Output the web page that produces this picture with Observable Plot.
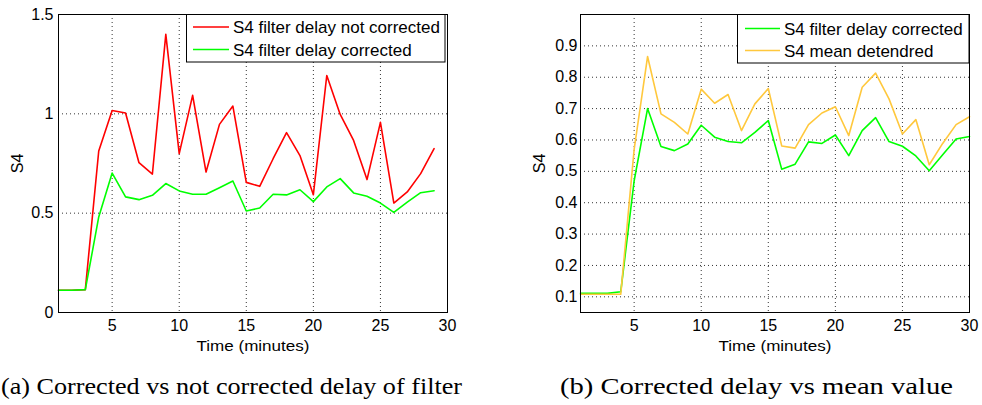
<!DOCTYPE html>
<html>
<head>
<meta charset="utf-8">
<script src="https://cdn.jsdelivr.net/npm/d3@7"></script>
<script src="https://cdn.jsdelivr.net/npm/@observablehq/plot@0.6"></script>
<style>
  html, body { margin: 0; padding: 0; background: #fff; }
  #wrap { position: relative; width: 982px; height: 405px; overflow: hidden; background: #fff; font-family: "Liberation Sans", Arial, sans-serif; }
  .panel { position: absolute; top: 0; }
  #overlay { position: absolute; left: 0; top: 0; }
</style>
</head>
<body>
<div id="wrap">
  <div id="pa" class="panel" style="left:0"></div>
  <div id="pb" class="panel" style="left:491px"></div>
  <svg id="overlay" width="982" height="405"></svg>
</div>
<script>
// ---- Data ----
const timeA = [1,2,3,4,5,6,7,8,9,10,11,12,13,14,15,16,17,18,19,20,21,22,23,24,25,26,27,28,29];
const s4NotCorrected = [0.112,0.112,0.115,0.813,1.017,1.004,0.754,0.697,1.400,0.800,1.093,0.707,0.947,1.039,0.655,0.635,0.774,0.905,0.790,0.593,1.193,0.997,0.866,0.669,0.957,0.551,0.607,0.699,0.825];
const s4CorrectedA = [0.112,0.112,0.115,0.481,0.702,0.582,0.568,0.590,0.649,0.612,0.595,0.595,0.628,0.662,0.511,0.526,0.595,0.592,0.618,0.558,0.632,0.674,0.602,0.585,0.551,0.504,0.556,0.603,0.613];

const timeB = [1,2,3,4,5,6,7,8,9,10,11,12,13,14,15,16,17,18,19,20,21,22,23,24,25,26,27,28,29,30];
const s4CorrectedB = [0.111,0.111,0.111,0.116,0.470,0.700,0.579,0.566,0.587,0.647,0.609,0.595,0.591,0.624,0.662,0.507,0.523,0.594,0.589,0.616,0.550,0.630,0.671,0.595,0.580,0.549,0.502,0.553,0.603,0.611];
const s4MeanDetrended = [0.108,0.108,0.108,0.108,0.570,0.866,0.683,0.656,0.619,0.762,0.717,0.745,0.630,0.715,0.764,0.581,0.574,0.649,0.686,0.706,0.614,0.768,0.813,0.731,0.619,0.665,0.521,0.589,0.649,0.674];

const xTicks = [5,10,15,20,25,30];
const yTicksA = [0,0.5,1,1.5];
const yTicksB = [0.1,0.2,0.3,0.4,0.5,0.6,0.7,0.8,0.9];

const seriesA = [
  {name: "S4 filter delay not corrected", color: "#ff0000", t: timeA, v: s4NotCorrected},
  {name: "S4 filter delay corrected", color: "#00ff00", t: timeA, v: s4CorrectedA}
];
const seriesB = [
  {name: "S4 filter delay corrected", color: "#00ff00", t: timeB, v: s4CorrectedB},
  {name: "S4 mean detendred", color: "#ffc83d", t: timeB, v: s4MeanDetrended}
];
const captions = ["(a) Corrected vs not corrected delay of filter", "(b) Corrected delay vs mean value"];

function rows(s) { return s.t.map((t, i) => ({t, v: s.v[i], name: s.name})); }

function panel(series, yDomain, yTicks, yFmt, marginLeft, marginRight) {
  const grid = {stroke: "#000", strokeOpacity: 0.8, strokeDasharray: "1,3", strokeWidth: 1};
  return Plot.plot({
    width: 491, height: 360,
    marginLeft, marginRight, marginTop: 14, marginBottom: 48,
    style: {fontFamily: "'Liberation Sans', Arial, sans-serif", fontSize: "16px", color: "#000", background: "transparent", overflow: "visible"},
    x: {domain: [1, 30]},
    y: {domain: yDomain},
    marks: [
      Plot.gridX(xTicks, grid),
      Plot.gridY(yTicks, grid),
      ...series.map(s => Plot.line(rows(s), {x: "t", y: "v", stroke: s.color, strokeWidth: 1.6})),
      Plot.frame({stroke: "#000", strokeWidth: 1}),
      Plot.axisX({ticks: xTicks, tickSize: 0, tickPadding: 7, tickFormat: d => String(d), label: "Time (minutes)", labelAnchor: "center", labelArrow: "none", labelOffset: 38, fontSize: 16}),
      Plot.axisY({ticks: yTicks, tickSize: 0, tickPadding: marginLeft > 70 ? 3 : 5, tickFormat: yFmt, label: "S4", labelAnchor: "center", labelArrow: "none", labelOffset: 47, fontSize: 16})
    ]
  });
}

const pa = panel(seriesA, [0, 1.5], yTicksA, d => String(d), 58, 44);
const pb = panel(seriesB, [0.05, 1.0], yTicksB, d3.format(".1f"), 89, 13);
document.getElementById("pa").appendChild(pa);
document.getElementById("pb").appendChild(pb);

// condensed look of the x-axis label in the reference
for (const svg of [pa, pb]) {
  d3.select(svg).selectAll('[aria-label="x-axis label"] text')
    .style("font-size", "15px").attr("textLength", 113).attr("lengthAdjust", "spacingAndGlyphs");
}

// ---- Legends and captions ----
const ov = d3.select("#overlay");
function legend(series, box, lineX, textX, rowY) {
  ov.append("rect").attr("x", box[0]).attr("y", box[1]).attr("width", box[2]).attr("height", box[3])
    .attr("fill", "#fff").attr("stroke", "#000").attr("stroke-width", 1);
  series.forEach((s, i) => {
    ov.append("line").attr("x1", lineX[0]).attr("x2", lineX[1]).attr("y1", rowY[i]).attr("y2", rowY[i])
      .attr("stroke", s.color).attr("stroke-width", 1.6);
    ov.append("text").attr("x", textX).attr("y", rowY[i]).attr("dy", "0.36em")
      .attr("font-family", "'Liberation Sans', Arial, sans-serif").attr("font-size", 17).attr("fill", "#000")
      .text(s.name);
  });
}
legend(seriesA, [186.5, 14.5, 258.5, 47.5], [193, 229], 233, [27, 49.5]);
legend(seriesB, [737.5, 14.5, 231.5, 48.5], [745, 780], 784, [28.5, 50.5]);

const capFont = "'Liberation Serif', 'DejaVu Serif', serif";
ov.append("text").attr("x", 1).attr("y", 394).attr("font-family", capFont).attr("font-size", 23)
  .attr("textLength", 461).attr("lengthAdjust", "spacingAndGlyphs").text(captions[0]);
ov.append("text").attr("x", 560).attr("y", 394).attr("font-family", capFont).attr("font-size", 23)
  .attr("textLength", 393).attr("lengthAdjust", "spacingAndGlyphs").text(captions[1]);
</script>
</body>
</html>
